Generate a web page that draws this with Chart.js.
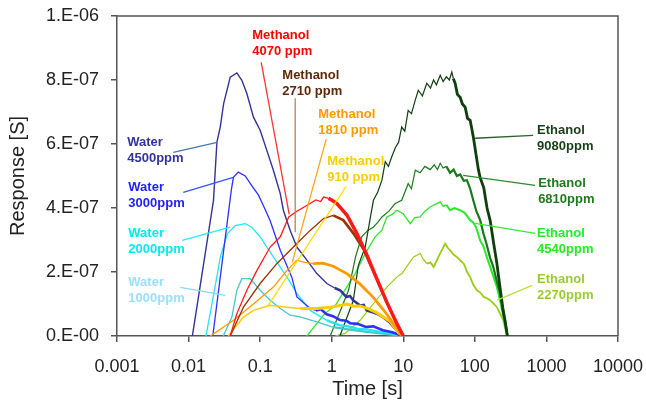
<!DOCTYPE html>
<html><head><meta charset="utf-8">
<script src="https://cdn.jsdelivr.net/npm/chart.js@4/dist/chart.umd.min.js"></script>
<style>html,body{margin:0;padding:0;background:#fff}#wrap{width:646px;height:401px}</style>
</head><body><div id="wrap"><canvas id="c" width="646" height="401"></canvas></div>
<script>
// ---------- axis ticks ----------
const xTickValues = [0.001, 0.01, 0.1, 1, 10, 100, 1000, 10000];
const xTickLabels = ['0.001', '0.01', '0.1', '1', '10', '100', '1000', '10000'];
const yTickValues = [0, 2e-7, 4e-7, 6e-7, 8e-7, 1e-6];
const yTickLabels = ['0.E-00', '2.E-07', '4.E-07', '6.E-07', '8.E-07', '1.E-06'];

// ---------- series: [time (s), response (S)] ----------
const water4500 = [[0.0113,0],[0.0223,4.24e-7],[0.0249,6.06e-7],[0.0277,6.53e-7],[0.0309,7.26e-7],[0.0382,8.09e-7],[0.0473,8.22e-7],[0.0555,7.99e-7],[0.0652,7.58e-7],[0.0807,6.84e-7],[0.100,6.43e-7],[0.124,5.8e-7],[0.153,5.18e-7],[0.191,4.45e-7],[0.211,3.93e-7],[0.263,3.3e-7],[0.326,2.78e-7],[0.45,2.37e-7],[0.62,1.95e-7],[0.855,1.64e-7],[1.1,1.5e-7],[1.31,1.43e-7],[1.6,1.22e-7],[1.8,1.25e-7],[1.99,1.12e-7],[2.5,0.95e-7],[2.8,0.97e-7],[3.08,0.8e-7],[4.0,0.72e-7],[4.6,0.66e-7],[5.2,0.59e-7],[6.5,0.42e-7],[8.1,0.18e-7],[10,0]];
const water3000 = [[0.0218,0],[0.0395,4.55e-7],[0.0423,4.96e-7],[0.0494,5.12e-7],[0.0619,5.0e-7],[0.0763,4.7e-7],[0.0948,4.4e-7],[0.115,4.0e-7],[0.138,3.6e-7],[0.191,2.68e-7],[0.277,1.84e-7],[0.326,1.22e-7],[0.5,0.86e-7],[0.6,0.8e-7],[0.7,0.84e-7],[0.85,0.68e-7],[1.04,0.62e-7],[1.3,0.5e-7],[1.6,0.48e-7],[1.81,0.4e-7],[2.3,0.38e-7],[3.0,0.28e-7],[3.8,0.3e-7],[5.2,0.18e-7],[7,0.12e-7],[9.05,0.03e-7],[10,0]];
const water2000 = [[0.0175,0],[0.022,1.2e-7],[0.028,2.5e-7],[0.035,3.2e-7],[0.045,3.45e-7],[0.0619,3.51e-7],[0.0763,3.4e-7],[0.1,3.1e-7],[0.153,2.47e-7],[0.237,1.84e-7],[0.326,1.33e-7],[0.5,0.8e-7],[0.855,0.49e-7],[1.31,0.33e-7],[1.7,0.3e-7],[2.25,0.23e-7],[3.2,0.2e-7],[4.76,0.13e-7],[6.5,0.1e-7],[9.05,0.02e-7],[10,0]];
const water1000 = [[0.0305,0],[0.0403,0.59e-7],[0.0473,1.43e-7],[0.0555,1.79e-7],[0.0727,1.79e-7],[0.1,1.43e-7],[0.138,1.12e-7],[0.191,0.86e-7],[0.263,0.65e-7],[0.363,0.6e-7],[0.6,0.45e-7],[1.04,0.28e-7],[1.8,0.2e-7],[3.08,0.13e-7],[6,0.06e-7],[10,0]];
const methanol4070 = [[0.0382,0],[0.0473,0.7e-7],[0.0652,1.43e-7],[0.0903,2.05e-7],[0.138,2.78e-7],[0.191,3.1e-7],[0.251,3.72e-7],[0.326,3.9e-7],[0.5,4.14e-7],[0.6,4.25e-7],[0.7,4.2e-7],[0.77,4.34e-7],[0.9,4.3e-7],[1.0,4.25e-7],[1.18,4.14e-7],[1.63,3.78e-7],[2.25,3.2e-7],[3.08,2.55e-7],[4.25,1.8e-7],[5.9,1.05e-7],[8.1,0.4e-7],[10,0]];
const methanol2710 = [[0.0382,0],[0.0585,0.9e-7],[0.1,1.64e-7],[0.171,2.26e-7],[0.326,2.89e-7],[0.5,3.3e-7],[0.77,3.67e-7],[1.05,3.77e-7],[1.45,3.62e-7],[2.02,3.2e-7],[2.8,2.7e-7],[3.5,2.2e-7],[4.25,1.78e-7],[5.9,1.05e-7],[8.1,0.38e-7],[10,0]];
const methanol1810 = [[0.0201,0],[0.0425,0.49e-7],[0.0807,1.0e-7],[0.153,1.53e-7],[0.237,2.05e-7],[0.326,2.37e-7],[0.42,2.3e-7],[0.55,2.26e-7],[0.75,2.28e-7],[1.05,2.18e-7],[1.63,1.95e-7],[2.5,1.62e-7],[3.84,1.2e-7],[5.9,0.68e-7],[9.05,0.08e-7],[10,0]];
const methanol910 = [[0.0358,0],[0.0585,0.59e-7],[0.0807,0.8e-7],[0.138,0.96e-7],[0.237,0.9e-7],[0.363,0.86e-7],[0.62,0.86e-7],[0.953,0.9e-7],[1.3,0.95e-7],[1.63,1.0e-7],[2.0,0.93e-7],[2.5,0.94e-7],[3.3,0.85e-7],[4.25,0.73e-7],[6.6,0.45e-7],[8.6,0.1e-7],[10,0]];
const ethanol9080 = [[1.3,0],[2.0,1.1e-7],[2.35,2.2e-7],[2.94,2.78e-7],[3.4,3.6e-7],[3.83,4.24e-7],[4.4,4.5e-7],[5.03,4.87e-7],[5.6,5.45e-7],[6.2,5.3e-7],[6.9,5.6e-7],[7.8,5.9e-7],[8.6,6.05e-7],[9.5,6.53e-7],[10.5,6.4e-7],[11.7,7.05e-7],[13,6.95e-7],[14.7,7.37e-7],[16.2,7.68e-7],[18.5,7.5e-7],[21.3,7.9e-7],[24,7.75e-7],[26.5,8.0e-7],[29,7.85e-7],[32.8,8.15e-7],[36,7.95e-7],[40,8.1e-7],[44,8.0e-7],[47.7,8.25e-7],[50,8.05e-7],[53,7.9e-7],[57,7.55e-7],[62.3,7.46e-7],[67,7.25e-7],[73.2,7.15e-7],[79,6.8e-7],[86,6.74e-7],[95.5,6.2e-7],[105,5.6e-7],[112,5.2e-7],[118.6,4.95e-7],[133,4.64e-7],[148,4.0e-7],[164,3.6e-7],[183,2.9e-7],[203,2.27e-7],[225,1.5e-7],[245,0.9e-7],[265,0.45e-7],[285,0]];
const ethanol6810 = [[0.953,0],[1.72,1.43e-7],[2.15,2.47e-7],[2.62,3.1e-7],[3.2,3.3e-7],[3.8,3.4e-7],[4.4,3.55e-7],[5.03,3.72e-7],[6.3,3.9e-7],[7.7,4.14e-7],[9.5,4.24e-7],[11.7,4.76e-7],[13,4.6e-7],[14.7,5.18e-7],[17.2,5.1e-7],[20,5.3e-7],[23.8,5.2e-7],[27,5.35e-7],[30,5.2e-7],[32.8,5.4e-7],[36,5.25e-7],[40,5.3e-7],[45,5.1e-7],[50.5,5.2e-7],[56,5.0e-7],[62.3,5.05e-7],[70,4.85e-7],[77.5,4.87e-7],[86,4.6e-7],[95,4.24e-7],[105,3.9e-7],[118.6,3.62e-7],[132,3.2e-7],[145,2.89e-7],[163,2.45e-7],[181,2.16e-7],[203,1.7e-7],[225.6,1.33e-7],[250,0.7e-7],[264,0.49e-7],[285,0]];
const ethanol4540 = [[0.45,0],[0.8,0.7e-7],[1.12,0.95e-7],[1.54,1.45e-7],[2.13,1.95e-7],[2.94,2.58e-7],[4.05,3.1e-7],[5.0,3.3e-7],[5.9,3.72e-7],[7.0,3.8e-7],[8.1,3.93e-7],[10,3.82e-7],[12.5,3.51e-7],[14.5,3.7e-7],[17.2,3.72e-7],[20,3.9e-7],[23.8,4.03e-7],[27,4.1e-7],[32.8,4.19e-7],[36,4.05e-7],[40,4.1e-7],[45,3.93e-7],[52,4.0e-7],[62,3.93e-7],[72,3.85e-7],[86,3.62e-7],[95,3.55e-7],[104,3.4e-7],[118,3.0e-7],[133,2.78e-7],[150,2.4e-7],[164,2.16e-7],[185,1.8e-7],[203,1.53e-7],[225,1.1e-7],[245,0.7e-7],[265,0.35e-7],[285,0]];
const ethanol2270 = [[1.12,0],[1.54,0.08e-7],[2.5,0.49e-7],[3.8,1.0e-7],[5.9,1.53e-7],[8.1,1.84e-7],[9.6,1.95e-7],[11.1,2.16e-7],[13.9,2.47e-7],[17.2,2.58e-7],[19,2.4e-7],[21.3,2.26e-7],[24,2.3e-7],[26.5,2.16e-7],[30,2.4e-7],[32.8,2.58e-7],[38.5,2.89e-7],[42,2.75e-7],[45,2.68e-7],[50,2.55e-7],[56,2.47e-7],[63,2.35e-7],[70,2.26e-7],[78,2.0e-7],[86,1.84e-7],[95,1.6e-7],[107,1.43e-7],[120,1.35e-7],[133,1.22e-7],[148,1.18e-7],[164,1.12e-7],[185,1.0e-7],[203,0.9e-7],[225,0.7e-7],[250,0.49e-7],[268,0.2e-7],[283,0]];

// ---------- label texts ----------
const labelLine1 = ['Water','Water','Water','Water','Methanol','Methanol','Methanol','Methanol','Ethanol','Ethanol','Ethanol','Ethanol'];
const labelLine2 = ['4500ppm','3000ppm','2000ppm','1000ppm','4070 ppm','2710 ppm','1810 ppm','910 ppm','9080ppm','6810ppm','4540ppm','2270ppm'];
// label anchors and leader lines, in data units [time, response]
const labelAnchors = [[0.00139,6.05e-7],[0.00144,4.65e-7],[0.00144,3.21e-7],[0.00144,1.68e-7],[0.0776,9.4e-7],[0.204,8.15e-7],[0.648,6.93e-7],[0.865,5.46e-7],[741,6.43e-7],[766,4.77e-7],[741,3.21e-7],[741,1.77e-7]];
const leaderFrom = [[0.00611,5.74e-7],[0.00844,4.49e-7],[0.00817,2.99e-7],[0.00765,1.52e-7],[0.1036,8.55e-7],[0.309,7.43e-7],[0.838,6.15e-7],[1.594,4.68e-7],[652,6.27e-7],[695,4.71e-7],[695,3.21e-7],[631,1.58e-7]];
const leaderTo = [[0.0251,6.05e-7],[0.0421,4.96e-7],[0.0382,3.4e-7],[0.0326,1.27e-7],[0.255,3.8e-7],[0.309,3.24e-7],[0.281,2.3e-7],[0.1297,0.96e-7],[101,6.18e-7],[68.6,5.02e-7],[101,3.52e-7],[205,1.12e-7]];

// ---------- styles ----------
const FONT = "'Liberation Sans', Arial, sans-serif";
const labelColors = ['#333399','#1f1fff','#00eaf5','#99e0ff','#ff0000','#5c2a0a','#ff9900','#ffcc00','#163f16','#1f7a1f','#22ee22','#99cc33'];
const leaderColors = ['#4a7aa8','#3355ff','#22eeff','#88d8ff','#ff3333','#c0804a','#ffa31a','#ffdd00','#2f5f2f','#2e8b2e','#33ee33','#bbdd44'];

const seriesList = [methanol4070, methanol2710, methanol1810, methanol910, water4500, water3000, water2000, water1000, ethanol9080, ethanol6810, ethanol4540, ethanol2270];
const seriesColors = ['#ff1a1a','#993300','#ff9900','#ffcc00','#333399','#2f2fff','#22e6f0','#45c7cf','#0f3f0f','#1a7a1a','#2ee62e','#99cc11'];
const thinW = [1.3,1.3,1.3,1.5,1.4,1.3,1.3,1.3,1.2,1.2,1.3,1.2];
const thickW = [3.5,2.6,2.8,3.0,2.6,2.6,2.4,2.2,2.8,2.2,2.0,1.8];
const thickFrom = [0.9,0.8,0.5,0.3,1.0,0.6,0.8,1.0,50,40,40,20];

const datasets = seriesList.map((s, i) => ({
  data: s.map(([t, v]) => ({x: t, y: v})),
  borderColor: seriesColors[i],
  borderWidth: thinW[i],
  pointRadius: 0,
  tension: 0,
  fill: false,
  segment: { borderWidth: ctx => ctx.p0.parsed.x >= thickFrom[i] ? thickW[i] : thinW[i] }
}));

const annotPlugin = {
  id: 'annot',
  afterDatasetsDraw(chart) {
    const {ctx, chartArea: a, scales: {x, y}} = chart;
    ctx.save();
    ctx.strokeStyle = '#555'; ctx.lineWidth = 1.5;
    ctx.beginPath(); ctx.moveTo(a.left, a.top); ctx.lineTo(a.right, a.top); ctx.lineTo(a.right, a.bottom); ctx.stroke();
    ctx.lineWidth = 1.3;
    leaderFrom.forEach((f, i) => {
      const t = leaderTo[i];
      ctx.strokeStyle = leaderColors[i];
      ctx.beginPath();
      ctx.moveTo(x.getPixelForValue(f[0]), y.getPixelForValue(f[1]));
      ctx.lineTo(x.getPixelForValue(t[0]), y.getPixelForValue(t[1]));
      ctx.stroke();
    });
    ctx.font = "bold 13px " + FONT;
    ctx.textAlign = 'left'; ctx.textBaseline = 'middle';
    labelAnchors.forEach((p, i) => {
      const px = x.getPixelForValue(p[0]), py = y.getPixelForValue(p[1]);
      ctx.fillStyle = labelColors[i];
      ctx.fillText(labelLine1[i], px, py);
      ctx.fillText(labelLine2[i], px, py + 16);
    });
    ctx.restore();
  }
};

new Chart(document.getElementById('c'), {
  type: 'line',
  data: { datasets },
  plugins: [annotPlugin],
  options: {
    responsive: false, animation: false, devicePixelRatio: 1,
    parsing: false, normalized: true,
    layout: { padding: { top: 16, right: 28, left: 0, bottom: 0 } },
    plugins: { legend: { display: false }, tooltip: { enabled: false } },
    scales: {
      x: {
        type: 'logarithmic', min: 0.001, max: 10000,
        afterBuildTicks: s => { s.ticks = xTickValues.map(v => ({ value: v })); },
        afterFit: s => { s.height = 65; s.paddingLeft = 0; s.paddingRight = 0; },
        ticks: { callback: (v, i) => xTickLabels[i], font: { family: FONT, size: 18 }, color: '#222', padding: 14, maxRotation: 0, autoSkip: false },
        grid: { drawOnChartArea: false, drawTicks: true, tickLength: 6, color: '#555', lineWidth: 1.5 },
        border: { color: '#555', width: 1.5 },
        title: { display: true, text: 'Time [s]', font: { family: FONT, size: 20 }, color: '#222', padding: { top: 0, bottom: 0 } }
      },
      y: {
        type: 'linear', min: 0, max: 1e-6,
        afterBuildTicks: s => { s.ticks = yTickValues.map(v => ({ value: v })); },
        afterFit: s => { s.width = 117; s.paddingTop = 0; s.paddingBottom = 0; },
        ticks: { callback: (v, i) => yTickLabels[i], font: { family: FONT, size: 18 }, color: '#222', padding: 12 },
        grid: { drawOnChartArea: false, drawTicks: true, tickLength: 6, color: '#555', lineWidth: 1.5 },
        border: { color: '#555', width: 1.5 },
        title: { display: true, text: 'Response [S]', font: { family: FONT, size: 20 }, color: '#222', padding: { top: 6, bottom: 0 } }
      }
    }
  }
});
</script></body></html>
